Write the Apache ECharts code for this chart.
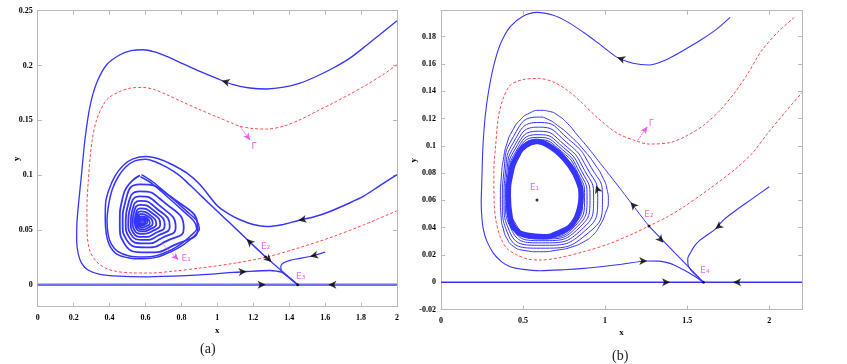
<!DOCTYPE html>
<html>
<head>
<meta charset="utf-8">
<script src="https://cdn.jsdelivr.net/npm/echarts@6.0.0/dist/echarts.min.js"></script>
<style>
  html, body { margin: 0; background: #fff; }
  #chart { width: 847px; height: 364px; }
</style>
</head>
<body>
<div id="chart"></div>
<script>
// ---- panel (a) ----
const leftXTicks = [0, 0.2, 0.4, 0.6, 0.8, 1, 1.2, 1.4, 1.6, 1.8, 2];
const leftYTicks = [0, 0.05, 0.1, 0.15, 0.2, 0.25];

// outer orbit: comes in from top right, round the left, ends in E3
const leftOuter = [[2.0,0.2409],[1.9,0.2275],[1.831,0.2185],[1.74,0.207],[1.645,0.1977],[1.55,0.190],[1.46,0.184],[1.37,0.1802],[1.275,0.1786],[1.18,0.1795],[1.089,0.1825],[1.0,0.188],[0.903,0.1946],[0.81,0.2015],[0.718,0.2083],[0.65,0.2124],[0.588,0.2144],[0.52,0.2135],[0.458,0.2098],[0.384,0.2007],[0.328,0.184],[0.291,0.1627],[0.263,0.1323],[0.241,0.0958],[0.228,0.075],[0.218,0.055],[0.217,0.040],[0.226,0.028],[0.244,0.0198],[0.28,0.0135],[0.347,0.0095],[0.45,0.0078],[0.588,0.0072],[0.75,0.0079],[0.903,0.0091],[1.05,0.0108],[1.163,0.0121],[1.293,0.013],[1.33,0.0124],[1.36,0.0112],[1.40,0.0066],[1.447,0]];

// separatrix Gamma (dashed)
const leftGamma = [[2.0,0.2007],[1.92,0.1915],[1.831,0.1825],[1.74,0.174],[1.645,0.1658],[1.55,0.158],[1.46,0.1505],[1.37,0.1448],[1.275,0.142],[1.2,0.1425],[1.126,0.1445],[1.089,0.1469],[1.0,0.153],[0.903,0.1597],[0.81,0.1665],[0.718,0.1734],[0.65,0.178],[0.588,0.18],[0.52,0.1795],[0.458,0.1764],[0.384,0.1688],[0.328,0.1505],[0.301,0.1293],[0.282,0.0958],[0.274,0.07],[0.275,0.048],[0.29,0.031],[0.328,0.021],[0.38,0.015],[0.44,0.0121],[0.53,0.0108],[0.625,0.0107],[0.76,0.0125],[0.903,0.0152],[1.1,0.0198],[1.275,0.0253],[1.45,0.0335],[1.645,0.044],[1.82,0.055],[2.0,0.0675]];

// orbit from (2, 0.1) winding into E1
const leftInA = [[2.0,0.1004],[1.9,0.09],[1.812,0.0806],[1.72,0.0735],[1.627,0.0669],[1.54,0.062],[1.451,0.0587],[1.36,0.0548],[1.275,0.0532],[1.2,0.055],[1.126,0.0593],[1.07,0.0639],[1.0,0.072],[0.903,0.0915],[0.829,0.102],[0.75,0.1095],[0.68,0.1145],[0.605,0.117],[0.53,0.1148],[0.477,0.109],[0.43,0.099],[0.395,0.086],[0.378,0.0745],[0.376,0.06],[0.382,0.046],[0.40,0.036],[0.44,0.028],[0.51,0.0245],[0.588,0.0237],[0.66,0.025],[0.74,0.030],[0.81,0.0365],[0.865,0.0435],[0.9,0.051],[0.885,0.0585],[0.83,0.067],[0.73,0.0815],[0.64,0.094],[0.578,0.1005]];

// unstable branch of E2 going up-left
const leftInB = [[1.269,0.0253],[1.163,0.0417],[1.07,0.0563],[1.0,0.067],[0.92,0.0795],[0.85,0.0905],[0.79,0.0995],[0.72,0.107],[0.65,0.1125],[0.6,0.1145],[0.54,0.113],[0.49,0.1075],[0.45,0.099],[0.415,0.087],[0.395,0.073],[0.386,0.058],[0.392,0.046],[0.41,0.037],[0.445,0.0305],[0.51,0.0262],[0.588,0.0253],[0.66,0.0265],[0.74,0.0315],[0.80,0.0375],[0.85,0.0445],[0.885,0.051],[0.87,0.058],[0.815,0.0665],[0.72,0.0805],[0.635,0.0925],[0.572,0.0985]];

// inner turns of the spiral around E1
const leftSpiral = [
  [0.569,0.0998],[0.475,0.0809],[0.457,0.0557],[0.481,0.0380],[0.610,0.0295],[0.766,0.0366],[0.891,0.0514],[0.735,0.0809],
  [0.569,0.0915],[0.489,0.0763],[0.473,0.0561],[0.494,0.0412],[0.602,0.0341],[0.719,0.0400],[0.813,0.0514],[0.696,0.0763],
  [0.569,0.0852],[0.503,0.0729],[0.490,0.0564],[0.508,0.0437],[0.598,0.0377],[0.692,0.0427],[0.768,0.0523],[0.674,0.0729],
  [0.570,0.0806],[0.515,0.0703],[0.504,0.0567],[0.519,0.0460],[0.595,0.0409],[0.673,0.0451],[0.735,0.0532],[0.657,0.0703],
  [0.571,0.0765],[0.527,0.0681],[0.518,0.0569],[0.530,0.0479],[0.592,0.0437],[0.656,0.0472],[0.707,0.0542],[0.643,0.0681],
  [0.572,0.0728],[0.536,0.0661],[0.529,0.0571],[0.539,0.0498],[0.589,0.0464],[0.641,0.0492],[0.682,0.0551],[0.631,0.0661],
  [0.573,0.0697],[0.546,0.0643],[0.540,0.0572],[0.548,0.0514],[0.587,0.0487],[0.628,0.0510],[0.660,0.0551],[0.619,0.0643],
  [0.574,0.0669],[0.553,0.0628],[0.548,0.0573],[0.555,0.0527],[0.585,0.0505],[0.616,0.0523],[0.640,0.0560],[0.610,0.0628],
  [0.575,0.0646],[0.560,0.0615],[0.557,0.0575],[0.561,0.0540],[0.583,0.0523],[0.606,0.0537],[0.624,0.0560],[0.601,0.0615],
  [0.576,0.0624],[0.565,0.0603],[0.562,0.0576],[0.566,0.0553],[0.582,0.0542],[0.597,0.0551],[0.610,0.0569],[0.594,0.0603],
  [0.577,0.0605],[0.570,0.0593],[0.568,0.0577],[0.570,0.0562],[0.581,0.0555],[0.591,0.0561],[0.598,0.0569],[0.589,0.0593],
  [0.579,0.0578]
];
const leftFocus = [[0.579,0.0578]];

const leftE2toE3 = [[1.269,0.0253],[1.447,0]];
const leftRightIn = [[1.6,0.0298],[1.516,0.0258],[1.45,0.0238],[1.404,0.0222],[1.367,0.0198],[1.353,0.0167],[1.358,0.0125],[1.447,0]];
const leftAxisFlow = [[0,0],[2,0]];
const leftEquilibria = [[1.269,0.0253],[1.447,0]];
// arrow heads: x, y, direction (deg, counter-clockwise from up)
const leftArrows = [[1.024,0.186,75],[1.451,0.0587,101],[1.163,0.0417,46],[1.302,0.0207,-134],[1.516,0.0258,104],[1.163,0.0121,-86],[1.269,0,-90],[1.618,0,90]];
const leftLabels = [['Γ',1.204,0.1262],['E₁',0.826,0.0234],['E₂',1.269,0.0344],['E₃',1.464,0.0076]];
const leftPointers = [[[1.126,0.1445],[1.182,0.132]],[[0.69,0.038],[0.783,0.0228]]];

// ---- panel (b) ----
const rightXTicks = [0, 0.5, 1, 1.5, 2];
const rightYTicks = [-0.02, 0, 0.02, 0.04, 0.06, 0.08, 0.1, 0.12, 0.14, 0.16, 0.18];

const rightOuter = [[1.762,0.1941],[1.68,0.1855],[1.583,0.1775],[1.481,0.1702],[1.38,0.1635],[1.267,0.1592],[1.17,0.1605],[1.074,0.1648],[0.972,0.174],[0.87,0.183],[0.768,0.191],[0.68,0.1958],[0.585,0.1978],[0.5,0.195],[0.422,0.1873],[0.36,0.174],[0.32,0.158],[0.29,0.14],[0.269,0.1213],[0.255,0.098],[0.249,0.075],[0.245,0.0579],[0.25,0.046],[0.259,0.0383],[0.28,0.030],[0.32,0.0212],[0.37,0.015],[0.422,0.0114],[0.5,0.0095],[0.605,0.0085],[0.75,0.0092],[0.872,0.0102],[0.972,0.0114],[1.1,0.0132],[1.257,0.0156],[1.33,0.0155],[1.379,0.0144],[1.43,0.0122],[1.481,0.009],[1.54,0.0048],[1.6,0]];

const rightGamma = [[2.153,0.1941],[2.05,0.183],[1.95,0.169],[1.87,0.153],[1.787,0.1385],[1.7,0.126],[1.6,0.115],[1.5,0.1075],[1.4,0.1025],[1.267,0.1013],[1.18,0.104],[1.074,0.1092],[0.95,0.121],[0.85,0.1325],[0.768,0.1409],[0.68,0.147],[0.595,0.1494],[0.5,0.1485],[0.422,0.1445],[0.38,0.135],[0.35,0.1213],[0.333,0.10],[0.322,0.0823],[0.324,0.0579],[0.335,0.045],[0.361,0.0334],[0.40,0.025],[0.463,0.02],[0.53,0.017],[0.605,0.0163],[0.72,0.018],[0.87,0.0224],[1.02,0.028],[1.176,0.0359],[1.267,0.0412],[1.38,0.048],[1.481,0.0554],[1.63,0.068],[1.787,0.0823],[1.9,0.095],[1.991,0.1092],[2.1,0.125],[2.2,0.139]];

// unstable branch of E2 winding onto the limit cycle from outside
const rightSpiral = [
  [1.267,0.0412],[1.155,0.0587],[1.043,0.0762],[0.972,0.087],[0.9,0.098],[0.83,0.108],[0.77,0.1165],[0.71,0.1225],[0.66,0.1252],[0.605,0.126],[0.54,0.124],[0.483,0.119],[0.435,0.111],[0.402,0.1018],[0.38,0.09],[0.368,0.078],[0.362,0.0603],[0.367,0.047],[0.38,0.039],[0.402,0.032],[0.44,0.0265],[0.5,0.0235],[0.6,0.0224],[0.72,0.0238],[0.80,0.026],[0.87,0.0297],[0.925,0.0345],[0.965,0.041],[1.002,0.0505],[1.02,0.06],[1.012,0.068],[0.985,0.077],[0.94,0.086],[0.87,0.097],[0.79,0.107],[0.71,0.115],[0.65,0.1195],
  [0.601,0.1211],[0.441,0.1067],[0.384,0.0818],[0.374,0.0608],[0.408,0.0354],[0.605,0.025],[0.898,0.0362],[0.984,0.0621],[0.914,0.0844],[0.776,0.105],
  [0.598,0.1171],[0.445,0.1033],[0.393,0.0808],[0.384,0.0612],[0.418,0.0373],[0.609,0.0271],[0.876,0.0376],[0.955,0.0623],[0.893,0.0831],[0.765,0.1026],
  [0.595,0.1137],[0.449,0.1003],[0.401,0.080],[0.392,0.0615],[0.428,0.039],[0.613,0.0289],[0.858,0.0388],[0.93,0.0624],[0.875,0.082],[0.755,0.1005],
  [0.593,0.1107],[0.452,0.0977],[0.408,0.0793],[0.399,0.0618],[0.435,0.0404],[0.616,0.0305],[0.841,0.0398],[0.908,0.0624],[0.859,0.081],[0.747,0.0987],
  [0.591,0.1082],[0.455,0.0956],[0.414,0.0787],[0.405,0.062],[0.442,0.0416],[0.618,0.0318],[0.828,0.0406],[0.89,0.0625],[0.846,0.0802],[0.74,0.0972],
  [0.589,0.1062],[0.457,0.0939],[0.418,0.0782],[0.41,0.0622],[0.447,0.0426],[0.62,0.0328],[0.817,0.0413],[0.875,0.0626],[0.836,0.0796],[0.734,0.096],
  [0.588,0.1045],[0.459,0.0924],[0.422,0.0778],[0.414,0.0624],[0.452,0.0434],[0.622,0.0337],[0.808,0.0419],[0.863,0.0626],[0.827,0.079],[0.729,0.095]
];
// the dense band of the limit cycle (centre line of the band)
const rightCycle = [[0.585,0.1033],[0.515,0.1002],[0.462,0.092],[0.425,0.0795],[0.41,0.0627],[0.42,0.049],[0.448,0.0395],[0.525,0.0345],[0.625,0.0334],[0.725,0.0367],[0.803,0.043],[0.845,0.0545],[0.854,0.0627],[0.835,0.0745],[0.782,0.086],[0.71,0.0955],[0.645,0.101],[0.585,0.1033]];

const rightE2toE4 = [[1.267,0.0412],[1.6,0]];
const rightRightIn = [[2.0,0.07],[1.9,0.0615],[1.8,0.053],[1.72,0.0455],[1.672,0.039],[1.62,0.0345],[1.575,0.0305],[1.542,0.0261],[1.52,0.0215],[1.504,0.0176],[1.505,0.013],[1.522,0.009],[1.56,0.0045],[1.6,0]];
const rightAxisFlow = [[0,0],[2.2,0]];
const rightEquilibria = [[0.585,0.0603],[1.267,0.0412],[1.6,0]];
const rightArrows = [[1.074,0.1648,70],[1.155,0.0587,41],[0.945,0.071,20],[1.355,0.029,-139],[1.672,0.039,128],[1.257,0.0156,-90],[1.396,0,-90],[1.78,0,90]];
const rightLabels = [['Γ',1.282,0.116],['E₁',0.570,0.0696],['E₂',1.267,0.0498],['E₄',1.608,0.0083]];
const rightPointers = [[[1.2,0.1042],[1.257,0.114]]];

// ---- styling ----
const blue = '#3535ff';
const red = '#ff4a4a';
const pink = '#e63ce6';
const frame = '#b8b8b8';
const tickFont = { color: '#000', fontFamily: 'Liberation Serif', fontWeight: 'bold', fontSize: 8 };
const nameFont = { fontFamily: 'Liberation Serif', fontWeight: 'bold', fontSize: 9, color: '#000' };

function xAxes(grid, min, max, ticks) {
  const base = {
    gridIndex: grid, type: 'value', min, max,
    splitLine: { show: false },
    axisLine: { onZero: false, lineStyle: { color: frame } },
    axisTick: { inside: true, length: 4, customValues: ticks, lineStyle: { color: frame } }
  };
  return [
    Object.assign({}, base, {
      position: 'bottom',
      axisLabel: Object.assign({ customValues: ticks, margin: 7 }, tickFont),
      name: 'x', nameLocation: 'middle', nameGap: 19, nameMoveOverlap: false,
      nameTextStyle: nameFont
    }),
    Object.assign({}, base, { position: 'top', axisLabel: { show: false } })
  ];
}
function yAxes(grid, min, max, ticks, gap) {
  const base = {
    gridIndex: grid, type: 'value', min, max,
    splitLine: { show: false },
    axisLine: { onZero: false, lineStyle: { color: frame } },
    axisTick: { inside: true, length: 4, customValues: ticks, lineStyle: { color: frame } }
  };
  return [
    Object.assign({}, base, {
      position: 'left',
      axisLabel: Object.assign({ customValues: ticks, margin: 5 }, tickFont),
      name: 'y', nameLocation: 'middle', nameGap: gap, nameRotate: 90, nameMoveOverlap: false,
      nameTextStyle: nameFont
    }),
    Object.assign({}, base, { position: 'right', axisLabel: { show: false } })
  ];
}

function curve(data, ax, style, smooth) {
  return {
    type: 'line', xAxisIndex: ax, yAxisIndex: ax, data,
    symbol: 'none', showSymbol: false, smooth: smooth === undefined ? 0.3 : smooth,
    lineStyle: Object.assign({ color: blue, width: 1.2 }, style),
    silent: true, z: 2
  };
}
function arrows(list, ax) {
  return {
    type: 'scatter', xAxisIndex: ax, yAxisIndex: ax, symbol: 'arrow', symbolSize: [6, 8],
    itemStyle: { color: '#000' }, silent: true, z: 6,
    data: list.map(a => ({ value: [a[0], a[1]], symbolRotate: a[2] }))
  };
}
function dots(list, ax) {
  return {
    type: 'scatter', xAxisIndex: ax, yAxisIndex: ax, symbolSize: 3,
    itemStyle: { color: '#000' }, silent: true, z: 7, data: list
  };
}
function labels(list, ax) {
  return {
    type: 'scatter', xAxisIndex: ax, yAxisIndex: ax, symbolSize: 0, silent: true, z: 8,
    data: list.map(l => ({ name: l[0], value: [l[1], l[2]] })),
    label: {
      show: true, position: 'inside', formatter: '{b}', color: pink,
      fontFamily: 'DejaVu Sans', fontSize: 9
    }
  };
}
function pointers(list, ax) {
  return {
    type: 'scatter', xAxisIndex: ax, yAxisIndex: ax, data: [], silent: true, z: 8,
    markLine: {
      silent: true, animation: false, symbol: ['none', 'arrow'], symbolSize: [5, 7],
      label: { show: false },
      lineStyle: { color: pink, width: 1, type: [2, 1], opacity: 0.8 },
      data: list.map(p => [{ coord: p[0] }, { coord: p[1] }])
    }
  };
}

const chart = echarts.init(document.getElementById('chart'), null, { renderer: 'canvas' });
chart.setOption({
  animation: false,
  backgroundColor: '#fff',
  title: [
    { text: '(a)', left: 195, top: 337, textStyle: { fontFamily: 'Liberation Serif', fontSize: 14, fontWeight: 'normal', color: '#222' } },
    { text: '(b)', left: 607, top: 344, textStyle: { fontFamily: 'Liberation Serif', fontSize: 14, fontWeight: 'normal', color: '#222' } }
  ],
  grid: [
    { left: 37.7, top: 10.7, width: 359.3, height: 296 },
    { left: 441, top: 10.7, width: 361, height: 298.9 }
  ],
  xAxis: [].concat(xAxes(0, 0, 2, leftXTicks), xAxes(1, 0, 2.2, rightXTicks)),
  yAxis: [].concat(yAxes(0, -0.02, 0.25, leftYTicks, 17), yAxes(1, -0.02, 0.199, rightYTicks, 23)),
  series: [
    // (a)
    curve(leftAxisFlow, 0, { color: '#6f6fff', width: 2.4 }, 0),
    curve(leftGamma, 0, { color: red, width: 1, type: [3, 2] }),
    curve(leftOuter, 0, { width: 1.3 }),
    curve(leftInA, 0, { width: 1.5 }),
    curve(leftInB, 0, { width: 1.5 }),
    curve(leftSpiral, 0, { width: 1.8 }, 0.6),
    curve(leftE2toE3, 0, { width: 1.2 }, 0),
    curve(leftRightIn, 0, { width: 1.2 }),
    {
      type: 'scatter', xAxisIndex: 0, yAxisIndex: 0, data: leftFocus, symbolSize: 8,
      itemStyle: { color: blue }, silent: true, z: 3
    },
    dots(leftEquilibria, 0),
    arrows(leftArrows, 0),
    labels(leftLabels, 0),
    pointers(leftPointers, 0),
    // (b)
    curve(rightAxisFlow, 2, { width: 1.4 }, 0),
    curve(rightGamma, 2, { color: red, width: 1, type: [3, 2] }),
    curve(rightOuter, 2, { width: 1.1 }),
    curve(rightSpiral, 2, { width: 1 }, 0.6),
    curve(rightCycle, 2, { width: 5.5 }, 0.5),
    curve(rightE2toE4, 2, { width: 1.1 }, 0),
    curve(rightRightIn, 2, { width: 1.1 }),
    dots(rightEquilibria, 2),
    arrows(rightArrows, 2),
    labels(rightLabels, 2),
    pointers(rightPointers, 2)
  ]
});
</script>
</body>
</html>
